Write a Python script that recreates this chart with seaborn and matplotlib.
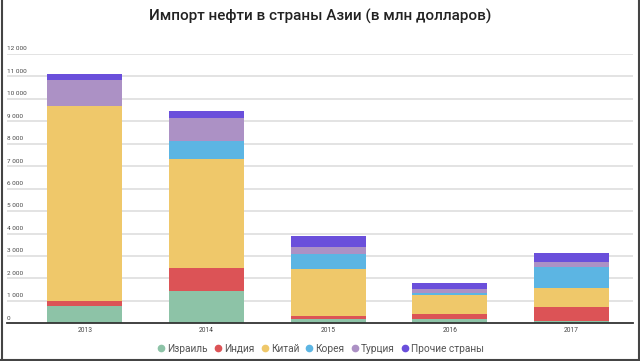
import matplotlib
matplotlib.use("Agg")
import matplotlib.pyplot as plt
import seaborn as sns
import pandas as pd
import numpy as np
from matplotlib.lines import Line2D
import matplotlib.transforms as mtransforms

years = ["2013", "2014", "2015", "2016", "2017"]
series_names = ["Израиль", "Индия", "Китай", "Корея", "Турция", "Прочие страны"]
israel = [790, 1460, 180, 210, 120]
india = [220, 1000, 160, 190, 590]
china = [8680, 4860, 2060, 850, 850]
korea = [0, 810, 670, 110, 960]
turkey = [1130, 1010, 320, 180, 190]
other = [300, 330, 500, 260, 430]
colors = ["#8DC3A7", "#DC5356", "#EFC86A", "#5CB5E3", "#AC91C5", "#6A4FDB"]
yticks = [0, 1000, 2000, 3000, 4000, 5000, 6000, 7000, 8000, 9000, 10000, 11000, 12000]
ytick_labels = ["0", "1 000", "2 000", "3 000", "4 000", "5 000", "6 000",
                "7 000", "8 000", "9 000", "10 000", "11 000", "12 000"]
title = "Импорт нефти в страны Азии (в млн долларов)"

sns.set_theme(style="white")
plt.rcParams["font.family"] = ["Roboto", "DejaVu Sans"]

fig = plt.figure(figsize=(6.4, 3.61), dpi=100)
ax = fig.add_axes([7 / 640, 37.7 / 361, 626 / 640, (323.3 - 54) / 361])

series = [israel, india, china, korea, turkey, other]
cum = np.cumsum(np.array(series), axis=0)

for g in yticks[1:]:
    ax.axhline(g, color="#e0e0e0", lw=1.3, zorder=0)

# draw tallest cumulative first so lower layers overlay
for i in range(len(series) - 1, -1, -1):
    df = pd.DataFrame({"year": years, "value": cum[i]})
    sns.barplot(data=df, x="year", y="value", order=years, color=colors[i],
                width=0.616, saturation=1, ax=ax, zorder=2,
                edgecolor="none", linewidth=0)

ax.set_ylim(0, 12000)
ax.set_xlim(-0.639, 4.505)
for s in ["top", "right", "left"]:
    ax.spines[s].set_visible(False)
ax.spines["bottom"].set_color("#333333")
ax.spines["bottom"].set_linewidth(1.3)
ax.spines["bottom"].set_zorder(5)
ax.set_yticks([])
ax.set_xlabel("")
ax.set_ylabel("")
ax.tick_params(axis="x", length=0, pad=3, labelsize=4.8, labelcolor="#444444")

trans = mtransforms.blended_transform_factory(ax.transAxes, ax.transData)
for v, lab in zip(yticks, ytick_labels):
    ax.text(0.0, v + 120, lab, transform=trans, ha="left", va="bottom",
            fontsize=4.6, color="#444444", zorder=6)

fig.text(0.5, 1 - 16 / 361, title, ha="center", va="center",
         fontsize=11, fontweight="medium", color="#222222")

handles = [Line2D([0], [0], marker="o", linestyle="none", markersize=4.5,
                  markerfacecolor=c, markeredgecolor=c) for c in colors]
fig.legend(handles, series_names, loc="center", bbox_to_anchor=(0.5, 1 - 348.5 / 361),
           ncol=6, frameon=False, fontsize=7.3, handletextpad=0.1, columnspacing=0.5,
           handlelength=1.0, labelcolor="#555555")

# outer frame lines
fig.add_artist(Line2D([1.5 / 640, 1.5 / 640], [0, 1], color="#444444", lw=1.5))
fig.add_artist(Line2D([638.5 / 640, 638.5 / 640], [0, 1], color="#444444", lw=1.5))
fig.add_artist(Line2D([0, 1], [1.5 / 361, 1.5 / 361], color="#444444", lw=1.5))

fig.savefig("out.png", dpi=100)
